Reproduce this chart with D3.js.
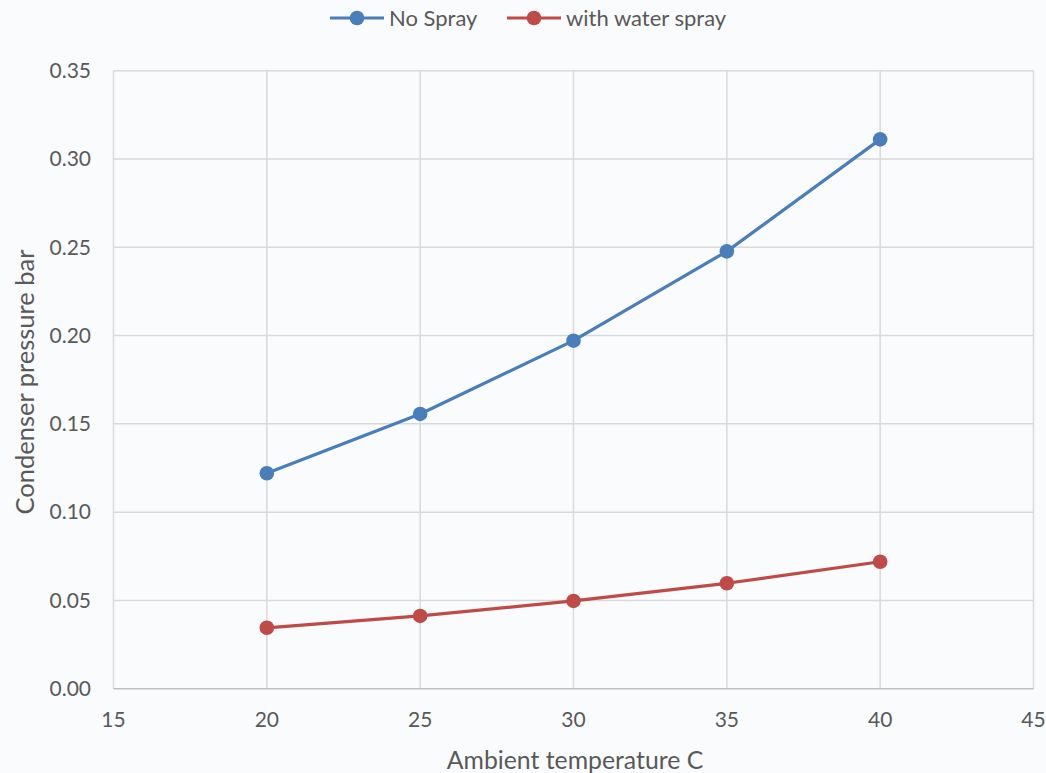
<!DOCTYPE html>
<html><head><meta charset="utf-8">
<script src="https://cdn.jsdelivr.net/npm/d3@7"></script>
<style>html,body{margin:0;padding:0;background:#fafbfd;}svg{display:block;font-family:Lato,"Open Sans",sans-serif;}</style>
</head><body>
<svg id="c" width="1046" height="773"></svg>
<script>
const temps = [20, 25, 30, 35, 40];
const noSpray = [0.122, 0.1556, 0.1971, 0.2477, 0.3111];
const withSpray = [0.0345, 0.0412, 0.0497, 0.0597, 0.0719];
const seriesNames = ["No Spray", "with water spray"];
const seriesColors = ["#4a7ebb", "#be4b48"];
const xTicks = [15, 20, 25, 30, 35, 40, 45];
const yTicks = [0, 0.05, 0.10, 0.15, 0.20, 0.25, 0.30, 0.35];

const svg = d3.select("#c");
const L = 113.5, R = 1033.5, T = 70.7, B = 688.7;
const x = d3.scaleLinear().domain([15, 45]).range([L, R]);
const y = d3.scaleLinear().domain([0, 0.35]).range([B, T]);
const txt = "#595959";

// gridlines
svg.append("g").selectAll("line").data(yTicks.slice(1)).join("line")
  .attr("x1", L).attr("x2", R).attr("y1", d => y(d)).attr("y2", d => y(d))
  .attr("stroke", "#d9d9d9").attr("stroke-width", 1.5);
svg.append("g").selectAll("line").data(xTicks).join("line")
  .attr("x1", d => x(d)).attr("x2", d => x(d)).attr("y1", T).attr("y2", B)
  .attr("stroke", "#d9d9d9").attr("stroke-width", 1.5);
// bottom axis line
svg.append("line").attr("x1", L).attr("x2", R).attr("y1", B).attr("y2", B)
  .attr("stroke", "#bfbfbf").attr("stroke-width", 1.5);

// tick labels
svg.append("g").selectAll("text").data(yTicks).join("text")
  .attr("x", 91).attr("y", d => y(d)).attr("dy", "0.35em").attr("text-anchor", "end")
  .attr("fill", txt).attr("font-size", 21).text(d => d3.format(".2f")(d));
svg.append("g").selectAll("text").data(xTicks).join("text")
  .attr("x", d => x(d)).attr("y", 720).attr("dy", "0.35em").attr("text-anchor", "middle")
  .attr("fill", txt).attr("font-size", 21).text(d => d);

// axis titles
svg.append("text").attr("x", 575).attr("y", 760).attr("dy", "0.35em").attr("text-anchor", "middle")
  .attr("fill", txt).attr("font-size", 24.8).text("Ambient temperature C");
svg.append("text").attr("transform", "translate(25,382) rotate(-90)").attr("dy", "0.35em")
  .attr("text-anchor", "middle").attr("fill", txt).attr("font-size", 25.5).text("Condenser pressure bar");

// series
const data = [noSpray, withSpray];
const line = d3.line().x((d, i) => x(temps[i])).y(d => y(d));
data.forEach((vals, k) => {
  svg.append("path").datum(vals).attr("d", line).attr("fill", "none")
    .attr("stroke", seriesColors[k]).attr("stroke-width", 3.2).attr("stroke-linejoin", "round");
  svg.append("g").selectAll("circle").data(vals).join("circle")
    .attr("cx", (d, i) => x(temps[i])).attr("cy", d => y(d)).attr("r", 7.3)
    .attr("fill", seriesColors[k]);
});

// legend
const legX = [330, 507];
seriesNames.forEach((name, k) => {
  const g = svg.append("g").attr("transform", `translate(${legX[k]},18)`);
  g.append("line").attr("x1", 0).attr("x2", 54).attr("y1", 0).attr("y2", 0)
    .attr("stroke", seriesColors[k]).attr("stroke-width", 3.2);
  g.append("circle").attr("cx", 27).attr("cy", 0).attr("r", 7.3).attr("fill", seriesColors[k]);
  g.append("text").attr("x", 59).attr("y", 0).attr("dy", "0.35em").attr("fill", txt)
    .attr("font-size", 22).text(name);
});
</script>
</body></html>
